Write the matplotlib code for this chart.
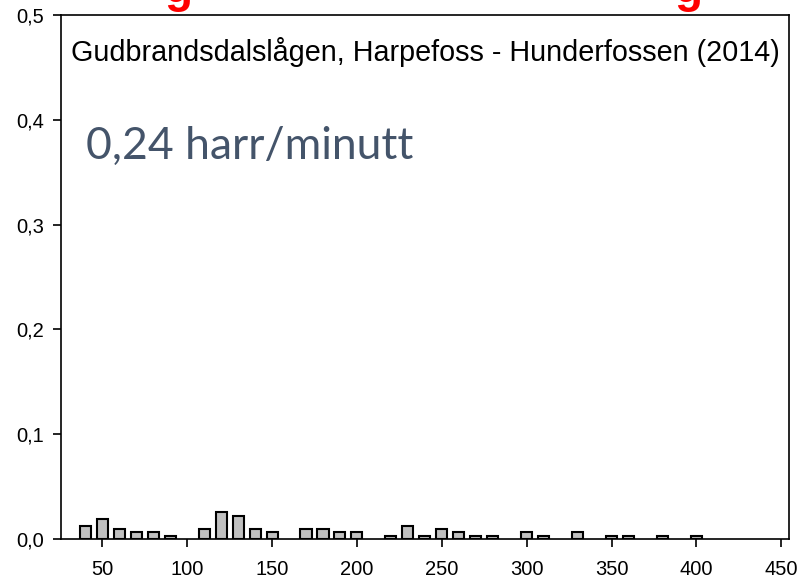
import numpy as np
import matplotlib.pyplot as plt
from matplotlib.ticker import FuncFormatter

# length classes (mm) and share of catch per class
lengths = [40, 50, 60, 70, 80, 90, 110, 120, 130, 140, 150, 170, 180, 190, 200,
           220, 230, 240, 250, 260, 270, 280, 300, 310, 330, 350, 360, 380, 400]
share = [0.0127, 0.0190, 0.0095, 0.0063, 0.0063, 0.0032, 0.0095, 0.0253, 0.0222,
         0.0095, 0.0063, 0.0095, 0.0095, 0.0063, 0.0063, 0.0032, 0.0127, 0.0032,
         0.0095, 0.0063, 0.0032, 0.0032, 0.0063, 0.0032, 0.0063, 0.0032, 0.0032,
         0.0032, 0.0032]

title = "Gudbrandsdalslågen, Harpefoss - Hunderfossen (2014)"
rate_text = "0,24 harr/minutt"

plt.rcParams["font.family"] = ["Liberation Sans", "DejaVu Sans"]

fig = plt.figure(figsize=(8.02, 5.79), dpi=100)
ax = fig.add_axes([0.0761, 0.0691, 0.9077, 0.905])

ax.bar(lengths, share, width=6.5, color="#c0c0c0", edgecolor="black", linewidth=1.5)

ax.set_xlim(25.7, 454.5)
ax.set_ylim(0, 0.5)
ax.set_xticks([50, 100, 150, 200, 250, 300, 350, 400, 450])
ax.set_yticks([0, 0.1, 0.2, 0.3, 0.4, 0.5])
ax.yaxis.set_major_formatter(FuncFormatter(lambda v, p: f"{v:.1f}".replace(".", ",")))
ax.tick_params(direction="out", length=6, width=1.2, labelsize=14.5)
ax.tick_params(axis="x", pad=9)
ax.tick_params(axis="y", pad=6)
for s in ax.spines.values():
    s.set_linewidth(1.2)

ax.text(0.5 * (72 + 778) / 802, 1 - 52 / 579, title, transform=fig.transFigure,
        ha="center", va="center", fontsize=20.7)
ax.text(86 / 802, 1 - 159 / 579, rate_text, transform=fig.transFigure,
        ha="left", va="baseline", fontsize=32, color="#44546A",
        family=["Lato", "DejaVu Sans"])

# red heading above the frame, only its descenders are visible
for xp in [178, 688]:
    fig.text(xp / 802, 1 - 1.5 / 579, "g", color="red", ha="center", va="baseline",
             fontsize=33, fontweight="bold")

fig.savefig("out.png", dpi=100)
